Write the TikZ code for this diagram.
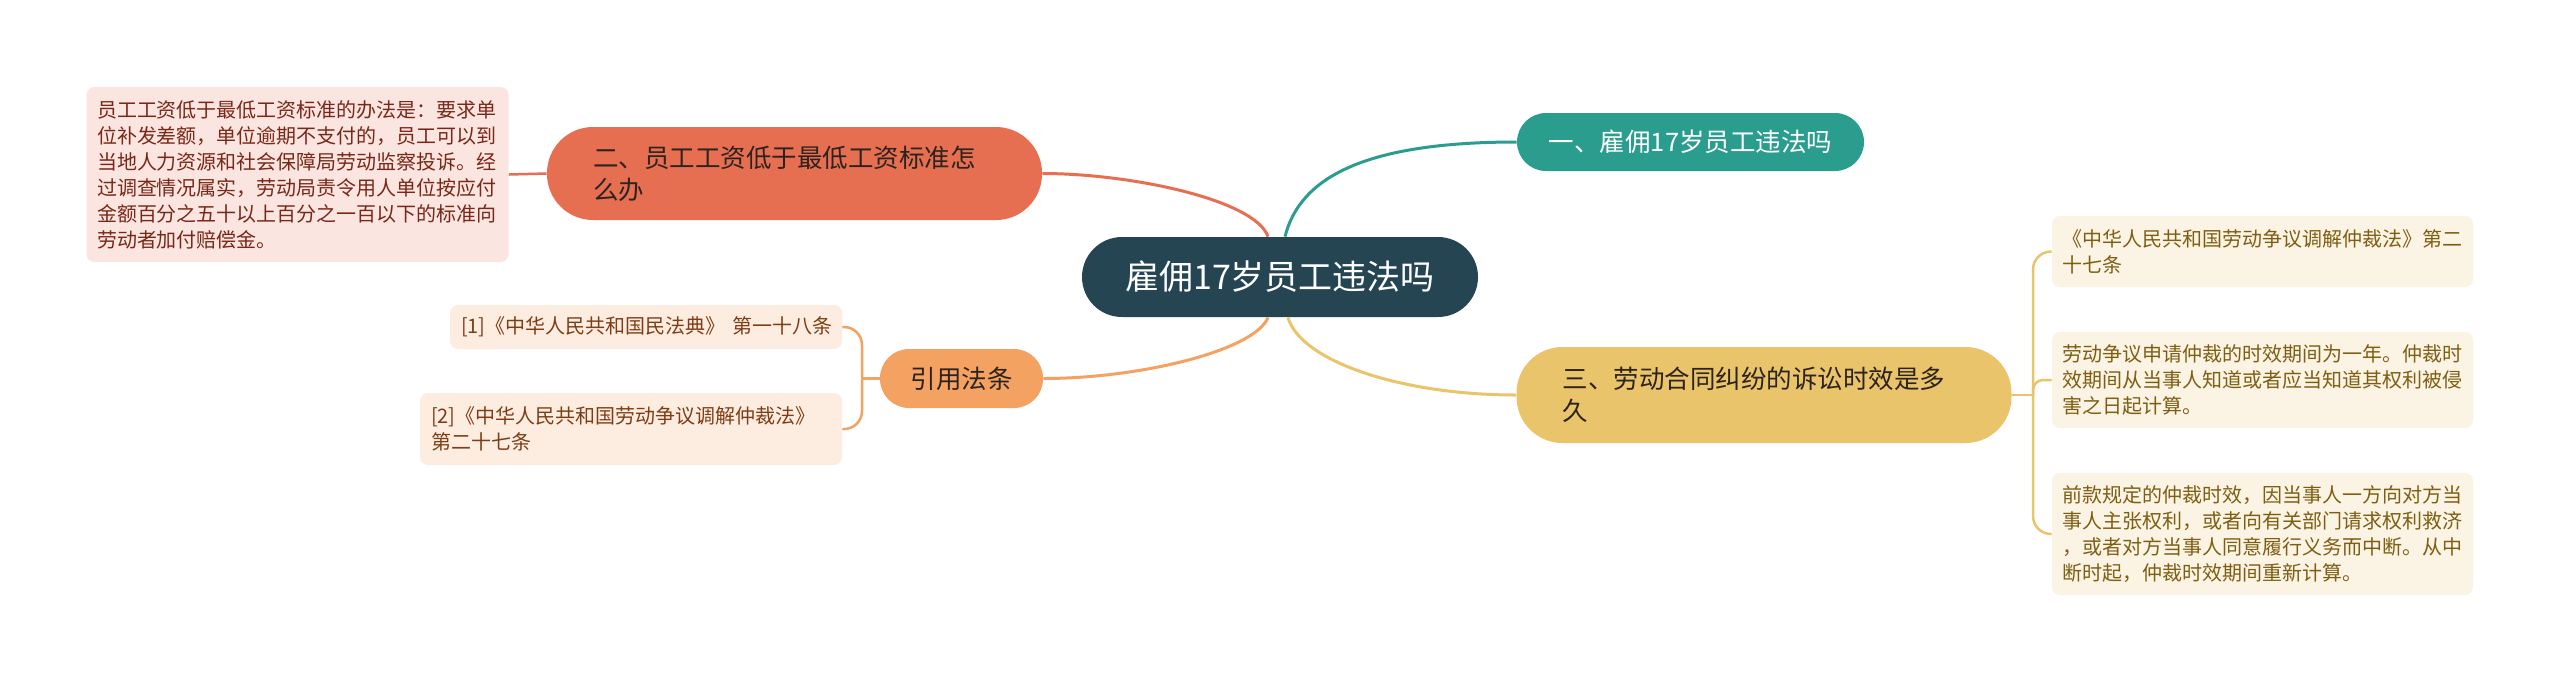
\documentclass[tikz,border=0pt]{standalone}
\usepackage{fontspec}
\setmainfont{Noto Sans CJK SC}
\definecolor{rootc}{RGB}{37,69,82}
\definecolor{tealc}{RGB}{42,157,143}
\definecolor{redc}{RGB}{231,111,81}
\definecolor{yelc}{RGB}{233,196,106}
\definecolor{sandc}{RGB}{244,162,97}
\definecolor{pinkfill}{RGB}{251,229,224}
\definecolor{creamfill}{RGB}{251,243,227}
\definecolor{peachfill}{RGB}{253,237,225}
\definecolor{pinktext}{RGB}{120,40,24}
\definecolor{creamtext}{RGB}{125,95,20}
\definecolor{peachtext}{RGB}{125,62,22}
\definecolor{darktext}{RGB}{45,35,30}
\tikzset{
  rootnode/.style={fill=rootc, text=white, rounded corners=20pt, minimum width=198pt,
    minimum height=40pt, inner sep=0pt, font=\fontsize{17}{20}\selectfont},
  mainnode/.style={rounded corners=14.5pt, inner sep=0pt, font=\fontsize{12.75}{16}\selectfont},
  tallnode/.style={rounded corners=23pt, inner xsep=23pt, inner ysep=0pt, align=left,
    text width=201.5pt, font=\fontsize{12.75}{16}\selectfont, text=darktext},
  leafnode/.style={rounded corners=4pt, inner xsep=5.25pt, inner ysep=0pt, align=left,
    font=\fontsize{10}{13}\selectfont},
  link/.style={line width=1.5pt},
  leaflink/.style={line width=1.25pt, rounded corners=9pt}
}
\begin{document}
\begin{tikzpicture}[x=0.5pt,y=-0.5pt]
\fill[white] (0,0) rectangle (2560,682);
\useasboundingbox (0,0) rectangle (2560,682);

% root
\node[rootnode] (ctr) at (1280,277) {雇佣17岁员工违法吗};

% main branches
\node[mainnode, fill=tealc, text=white, minimum width=173.5pt, minimum height=29pt] (n1) at (1690.5,142) {一、雇佣17岁员工违法吗};
\node[tallnode, fill=redc, minimum height=46.5pt] (n2) at (794.5,173.5) {二、员工工资低于最低工资标准怎\\么办};
\node[tallnode, fill=yelc, minimum height=48pt] (n3) at (1764,395) {三、劳动合同纠纷的诉讼时效是多\\久};
\node[mainnode, fill=sandc, text=darktext, minimum width=81.5pt, minimum height=29.5pt] (yin) at (961.5,378.5) {引用法条};

% leaves
\node[leafnode, fill=pinkfill, text=pinktext, text width=200.5pt, minimum height=87.5pt] (b1) at (297.5,174.5)
 {员工工资低于最低工资标准的办法是：要求单\\位补发差额，单位逾期不支付的，员工可以到\\当地人力资源和社会保障局劳动监察投诉。经\\过调查情况属实，劳动局责令用人单位按应付\\金额百分之五十以上百分之一百以下的标准向\\劳动者加付赔偿金。};

\node[leafnode, fill=creamfill, text=creamtext, text width=200pt, minimum height=35.5pt] (ra) at (2262.5,251.5)
 {《中华人民共和国劳动争议调解仲裁法》第二\\十七条};
\node[leafnode, fill=creamfill, text=creamtext, text width=200pt, minimum height=48pt] (rb) at (2262.5,380)
 {劳动争议申请仲裁的时效期间为一年。仲裁时\\效期间从当事人知道或者应当知道其权利被侵\\害之日起计算。};
\node[leafnode, fill=creamfill, text=creamtext, text width=200pt, minimum height=61pt] (rc) at (2262.5,534)
 {前款规定的仲裁时效，因当事人一方向对方当\\事人主张权利，或者向有关部门请求权利救济\\，或者对方当事人同意履行义务而中断。从中\\断时起，仲裁时效期间重新计算。};

\node[leafnode, fill=peachfill, text=peachtext, text width=185pt, inner xsep=5.5pt, minimum height=22pt] (c1) at (646,327)
 {\mbox{[1]《中华人民共和国民法典》 第一十八条}};
\node[leafnode, fill=peachfill, text=peachtext, text width=200pt, inner xsep=5.5pt, minimum height=36pt] (c2) at (631,429)
 {[2]《中华人民共和国劳动争议调解仲裁法》\\第二十七条};

% root connectors
\draw[link, redc] ([xshift=-6pt]ctr.north) .. controls +(-13,-37) and +(88,0) .. (n2.east);
\draw[link, tealc] ([xshift=2.5pt]ctr.north) .. controls +(15,-60) and +(-150,0) .. (n1.west);
\draw[link, sandc] ([xshift=-6pt]ctr.south) .. controls +(-13,33) and +(97,0) .. (yin.east);
\draw[link, yelc] ([xshift=4pt]ctr.south) .. controls +(12,43) and +(-117,0) .. (n3.west);

% leaf connectors
\draw[leaflink, redc] (n2.west) -- (b1.east);

\coordinate (jy) at (862,378.5);
\draw[leaflink, sandc] (yin.west) -- (jy);
\draw[leaflink, sandc] (jy) |- (c1.east);
\draw[leaflink, sandc] (jy) |- (c2.east);

\coordinate (j3) at (2033,395);
\draw[leaflink, yelc] (n3.east) -- (j3);
\draw[leaflink, yelc] (j3) |- (ra.west);
\draw[leaflink, yelc, rounded corners=5pt] (j3) |- (rb.west);
\draw[leaflink, yelc] (j3) |- (rc.west);
\end{tikzpicture}
\end{document}
